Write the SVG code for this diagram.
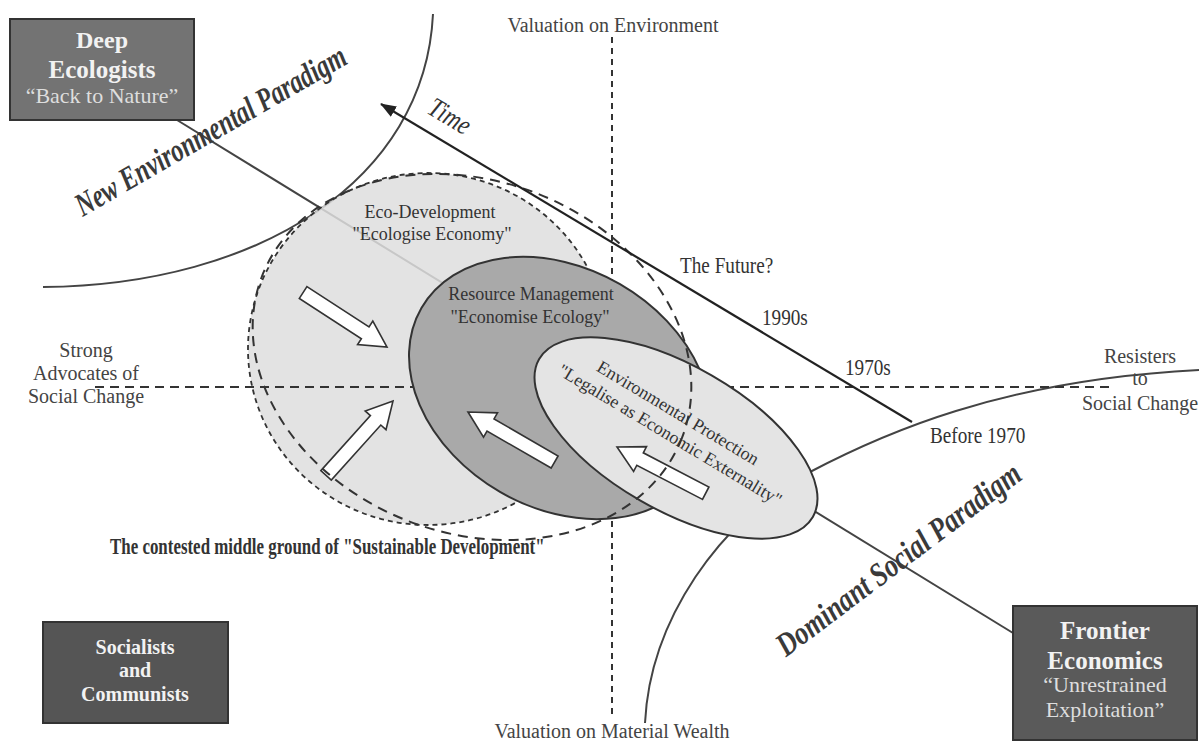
<svg xmlns="http://www.w3.org/2000/svg" width="1199" height="742" viewBox="0 0 1199 742">
<style>
text{font-family:"Liberation Serif","Times New Roman",serif;fill:#333}
.lbl{font-size:20px;text-anchor:middle;fill:#444}
.era{font-size:24px}
.para{font-size:33px;font-weight:bold;font-style:italic;text-anchor:middle;fill:#3a3a3a}
.box{stroke:#333;stroke-width:2}
.bt{fill:#f2f2f2;font-weight:bold;text-anchor:middle}
.bq{fill:#dedede;text-anchor:middle;font-size:22px}
.curve{fill:none;stroke:#444;stroke-width:2}
.axis{fill:none;stroke:#333;stroke-width:2}
.blk{fill:#fff;stroke:#333;stroke-width:1.6;stroke-linejoin:miter}
.in{font-size:18px;text-anchor:middle;fill:#333}
</style>
<defs>
<marker id="ah" viewBox="0 0 16 12" refX="15" refY="6" markerWidth="16" markerHeight="12" markerUnits="userSpaceOnUse" orient="auto"><path d="M0,0 L16,6 L0,12 z" fill="#222"/></marker>
<polygon id="barrow" points="-100,-7 -26,-7 -26,-14 0,0 -26,14 -26,7 -100,7"/>
</defs>
<rect width="1199" height="742" fill="#fff"/>

<g id="connectors">
<line x1="177" y1="120" x2="1013" y2="633" stroke="#444" stroke-width="2"/>
<path id="nep-curve" class="curve" d="M433,14 C425,180 260,285 43,287"/>
<path id="dsp-curve" class="curve" d="M645,723 C650,620 720,520 808,473 C880,435 1000,380 1199,370"/>
</g>

<g id="eco-development">
<ellipse cx="428" cy="349" rx="180" ry="176" fill="#dedede" fill-opacity="0.85" stroke="#333" stroke-width="1.8" stroke-dasharray="5,4"/>
</g>

<g id="axes">
<line class="axis" x1="95" y1="387" x2="1113" y2="387" stroke-dasharray="9,6"/>
<line class="axis" x1="612" y1="37" x2="612" y2="718" stroke-dasharray="6,5"/>
</g>

<g id="eco-arrows">
<use href="#barrow" class="blk" transform="translate(387,347) rotate(33)"/>
<use href="#barrow" class="blk" transform="translate(393,401) rotate(-48)"/>
</g>

<g id="resource-management">
<ellipse cx="560" cy="388" rx="160" ry="120" transform="rotate(30 560 388)" fill="#a9a9a9" stroke="#333" stroke-width="2"/>
<use href="#barrow" class="blk" transform="translate(468,412) rotate(210)"/>
</g>

<g id="environmental-protection">
<ellipse cx="676" cy="438" rx="158" ry="72" transform="rotate(30 676 438)" fill="#e4e4e4" stroke="#333" stroke-width="2"/>
<use href="#barrow" class="blk" transform="translate(617,447) rotate(207.5)"/>
</g>

<g id="sustainable-development">
<ellipse cx="472" cy="357" rx="225" ry="176" transform="rotate(21 472 357)" fill="none" stroke="#333" stroke-width="2" stroke-dasharray="10,7"/>
</g>

<g id="time-axis">
<line x1="912" y1="422" x2="381" y2="104" stroke="#222" stroke-width="2.2" marker-end="url(#ah)"/>
<text transform="translate(445,124) rotate(31) scale(0.82,1)" font-size="28" font-style="italic" text-anchor="middle">Time</text>
<text class="era" transform="translate(680,273) scale(0.8,1)">The Future?</text>
<text class="era" transform="translate(762,325) scale(0.8,1)">1990s</text>
<text class="era" transform="translate(845,375) scale(0.8,1)">1970s</text>
<text class="era" transform="translate(930,443) scale(0.8,1)">Before 1970</text>
</g>

<g id="labels">
<text class="lbl" x="613" y="32">Valuation on Environment</text>
<text class="lbl" x="612" y="738">Valuation on Material Wealth</text>
<text class="lbl" x="86" y="357">Strong</text>
<text class="lbl" x="86" y="380">Advocates of</text>
<text class="lbl" x="86" y="403">Social Change</text>
<text class="lbl" x="1140" y="363">Resisters</text>
<text class="lbl" x="1140" y="385">to</text>
<text class="lbl" x="1140" y="410">Social Change</text>
<text transform="translate(110,554) scale(0.705,1)" font-size="24" font-weight="bold" fill="#444">The contested middle ground of "Sustainable Development"</text>
<text class="para" transform="translate(216,140) rotate(-30) scale(0.74,1)">New Environmental Paradigm</text>
<text class="para" transform="translate(905,568) rotate(-37) scale(0.8,1)">Dominant Social Paradigm</text>
</g>

<g id="ellipse-labels">
<text class="in" x="430" y="218">Eco-Development</text>
<text class="in" x="432" y="240">"Ecologise Economy"</text>
<text class="in" x="531" y="300">Resource Management</text>
<text class="in" x="530" y="323">"Economise Ecology"</text>
<text class="in" transform="translate(675,418) rotate(31)">Environmental Protection</text>
<text class="in" transform="translate(667,440) rotate(31)">"Legalise as Economic Externality"</text>
</g>

<g id="deep-ecologists">
<rect class="box" x="10" y="19" width="184" height="101" fill="#737373"/>
<text class="bt" x="102" y="48" font-size="24">Deep</text>
<text class="bt" x="102" y="78" font-size="25">Ecologists</text>
<text class="bq" x="102" y="103">“Back to Nature”</text>
</g>

<g id="socialists-communists">
<rect class="box" x="43" y="622" width="185" height="101" fill="#555"/>
<text class="bt" x="135" y="654" font-size="20">Socialists</text>
<text class="bt" x="135" y="677" font-size="20">and</text>
<text class="bt" x="135" y="701" font-size="20">Communists</text>
</g>

<g id="frontier-economics">
<rect class="box" x="1013" y="606" width="184" height="134" fill="#5a5a5a"/>
<text class="bt" x="1105" y="639" font-size="25">Frontier</text>
<text class="bt" x="1105" y="669" font-size="25">Economics</text>
<text class="bq" x="1105" y="692">“Unrestrained</text>
<text class="bq" x="1105" y="717">Exploitation”</text>
</g>
</svg>
